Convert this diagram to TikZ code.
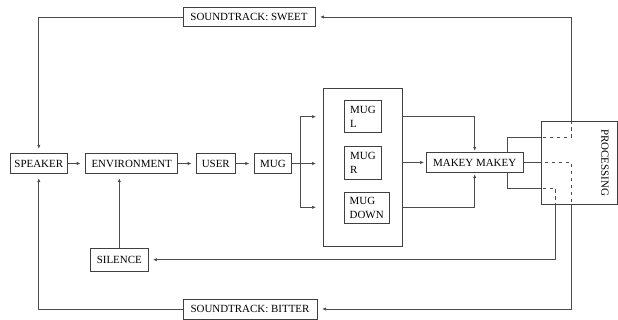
\documentclass[tikz,border=0pt]{standalone}
\usepackage{fontspec}
\setmainfont{Liberation Serif}
\usetikzlibrary{arrows.meta}

\begin{document}
\begin{tikzpicture}[x=0.3mm,y=-0.3mm,
  box/.style={draw=black!75,line width=0.6pt,inner sep=0pt,minimum height=5.8mm,align=left,font=\fontsize{9.35}{12}\selectfont},
  link/.style={draw=black!70,line width=0.6pt},
  arr/.style={link,-{Latex[length=1.2mm,width=1mm]},shorten >=1.4mm}]
  \useasboundingbox (0,0) rectangle (618,320);
  \node[box,minimum width=17.3mm] (speaker) at (38.8,163.5) {SPEAKER};
  \node[box,minimum width=27.6mm] (env) at (131.7,163.5) {ENVIRONMENT};
  \node[box,minimum width=11.5mm] (user) at (215.8,163.5) {USER};
  \node[box,minimum width=11.2mm] (mug) at (273,163.5) {MUG};
  \node[box,minimum width=23.7mm,minimum height=47.3mm] (group) at (362.8,167.2) {};
  \node[box,minimum width=11.2mm,minimum height=9.6mm] (mugl) at (363,116.7) {MUG\\L};
  \node[box,minimum width=11.2mm,minimum height=9.9mm] (mugr) at (363,162.5) {MUG\\R};
  \node[box,minimum width=13.4mm,minimum height=9.3mm] (mugd) at (366.7,207.8) {MUG\\DOWN};
  \node[box,minimum width=29.2mm] (makey) at (474.7,162.5) {MAKEY MAKEY};
  \node[box,minimum width=17.2mm,minimum height=7mm] (silence) at (119.3,259.7) {SILENCE};
  \node[box,minimum width=39.6mm,minimum height=5.7mm] (sweet) at (249,17) {SOUNDTRACK: SWEET};
  \node[box,minimum width=40.2mm,minimum height=6mm] (bitter) at (250,309) {SOUNDTRACK: BITTER};

  \coordinate (fork) at (300,163.5);
  \coordinate (fa) at (316,116.7);
  \coordinate (fb) at (316,163.5);
  \coordinate (fc) at (316,207.3);
  \coordinate (tapL) at (507.7,137);
  \coordinate (tapR) at (571.7,137);
  \coordinate (tapB) at (571.7,162.5);
  \coordinate (tapD) at (507.7,188);
  \coordinate (tapS) at (555.7,188);

  \draw[arr] (speaker) -- (env);
  \draw[arr] (env) -- (user);
  \draw[arr] (user) -- (mug);
  \draw[link] (mug) -- (fork);
  \draw[arr,shorten >=0pt] (fork) |- (fa);
  \draw[arr,shorten >=0pt] (fork) -- (fb);
  \draw[arr,shorten >=0pt] (fork) |- (fc);
  \draw[arr,shorten >=0.5mm] (group.east |- mugl.west) -| (makey.north);
  \draw[arr,shorten >=0.5mm] (group.east |- makey.west) -- (makey.west);
  \draw[arr,shorten >=0.5mm] (group.east |- mugd.west) -| (makey.south);
  \draw[arr] (makey.north -| tapL) -- (tapL) -- (tapR) |- (sweet.east);
  \draw[arr] (makey.east) -- (tapB) |- (bitter.east);
  \draw[arr] (makey.south -| tapD) -- (tapD) -- (tapS) |- (silence.east);
  \draw[arr] (sweet.west) -| (speaker.north);
  \draw[arr] (bitter.west) -| (speaker.south);
  \draw[arr] (silence.north) -- (silence.north |- env.south);

  \node[box,fill=white,minimum width=22.8mm,minimum height=24.9mm] (proc) at (579,162.5) {};
  \begin{scope}
    \clip (proc.north west) rectangle (proc.south east);
    \draw[link,dashed] (tapL) -- (tapR) -- (sweet.east -| tapR);
    \draw[link,dashed] (makey.east) -- (tapB) -- (bitter.east -| tapB);
    \draw[link,dashed] (tapD) -- (tapS) -- (silence.east -| tapS);
  \end{scope}
  \node[rotate=-90,font=\fontsize{9.35}{12}\selectfont] (proctext) at (605,162.5) {PROCESSING};
\end{tikzpicture}
\end{document}
